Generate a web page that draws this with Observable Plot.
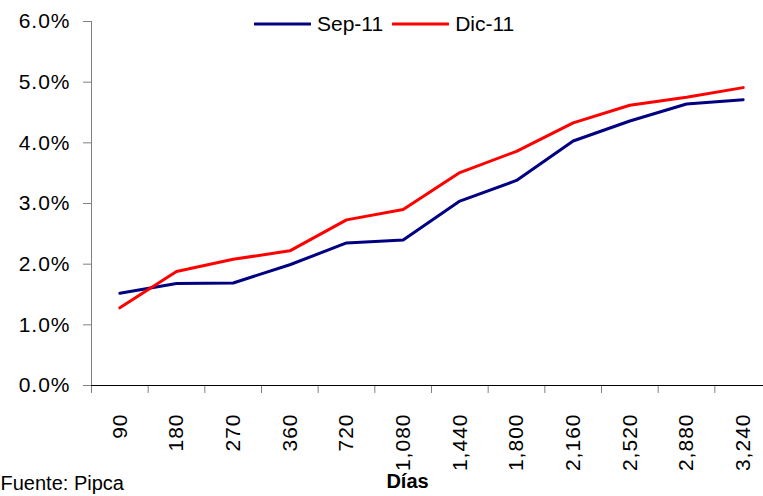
<!DOCTYPE html>
<html>
<head>
<meta charset="utf-8">
<script src="https://cdn.jsdelivr.net/npm/d3@7"></script>
<script src="https://cdn.jsdelivr.net/npm/@observablehq/plot@0.6"></script>
<style>
  html, body { margin: 0; padding: 0; background: white; }
  #wrap { position: relative; width: 763px; height: 496px; overflow: hidden; font-family: "Liberation Sans", Arial, sans-serif; }
  #legend { position: absolute; left: 254px; top: 12px; display: flex; align-items: center; font-size: 21px; color: #000; }
  #legend .item { display: flex; align-items: center; margin-right: 9px; }
  #legend svg { margin-right: 6px; }
  g[aria-label="y-axis tick label"] text, g[aria-label="x-axis tick label"] text { letter-spacing: 1px; }
</style>
</head>
<body>
<div id="wrap"></div>
<script>
const days = ["90","180","270","360","720","1,080","1,440","1,800","2,160","2,520","2,880","3,240"];
const sep11 = [1.52,1.68,1.69,1.99,2.35,2.40,3.04,3.38,4.03,4.36,4.64,4.71];
const dic11 = [1.28,1.88,2.08,2.22,2.73,2.90,3.51,3.86,4.33,4.62,4.75,4.91];
const yTicks = [0,1,2,3,4,5,6];
const seriesNames = ["Sep-11","Dic-11"];
const seriesColors = ["#000080","#ff0000"];

const data = days.map((d, i) => ({day: d, sep: sep11[i], dic: dic11[i]}));

const W = 763, H = 496, ML = 91, MT = 21, MB = 111;
const xRange = [91, 771];
const step = (xRange[1] - xRange[0]) / days.length;
const fmt = d => d.toFixed(1) + "%";

const chart = Plot.plot({
  width: W, height: H,
  marginLeft: ML, marginRight: 0, marginTop: MT, marginBottom: MB,
  style: {fontFamily: "'Liberation Sans', Arial, sans-serif", background: "white", color: "black", overflow: "hidden"},
  x: {type: "point", domain: days, padding: 0.5, range: xRange, round: false, label: null},
  y: {domain: [0, 6], label: null},
  marks: [
    Plot.axisY({ticks: yTicks, tickFormat: fmt, tickSize: 8, tickPadding: 13, fontSize: 21, stroke: "#808080", fill: "black", label: null}),
    Plot.ruleX([days[0]], {dx: -step / 2, stroke: "#808080"}),
    Plot.ruleX(days, {x: d => d, y1: 0, y2: 0, dx: -step / 2, insetBottom: -8, stroke: "#808080"}),
    Plot.ruleY([0], {stroke: "black"}),
    Plot.axisX({tickSize: 0, tickRotate: -90, tickPadding: 28, fontSize: 21, fill: "black", label: null}),
    Plot.line(data, {x: "day", y: "sep", stroke: seriesColors[0], strokeWidth: 3}),
    Plot.line(data, {x: "day", y: "dic", stroke: seriesColors[1], strokeWidth: 3}),
    Plot.text(["Días"], {frameAnchor: "bottom", dx: -20, dy: 102, fontSize: 20, fontWeight: "bold", fill: "black"}),
    Plot.text(["Fuente: Pipca"], {frameAnchor: "bottom-left", dx: -91, dy: 104, textAnchor: "start", fontSize: 20, fill: "black"})
  ]
});

const wrap = document.getElementById("wrap");
wrap.appendChild(chart);

const legend = document.createElement("div");
legend.id = "legend";
seriesNames.forEach((name, i) => {
  const item = document.createElement("div");
  item.className = "item";
  item.innerHTML = `<svg width="57" height="6"><line x1="1" y1="3" x2="56" y2="3" stroke="${seriesColors[i]}" stroke-width="3" stroke-linecap="round"/></svg><span>${name}</span>`;
  legend.appendChild(item);
});
wrap.appendChild(legend);
</script>
</body>
</html>
